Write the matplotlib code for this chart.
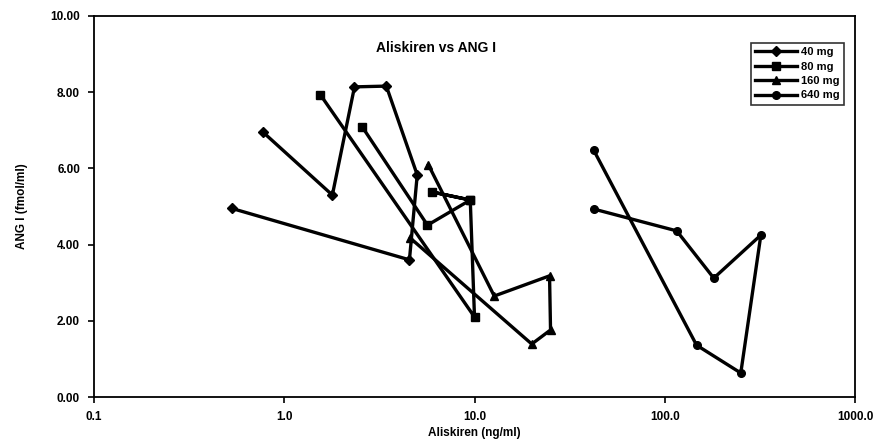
import numpy as np
import matplotlib
matplotlib.use("Agg")
from matplotlib import pyplot as plt
from matplotlib.ticker import FixedLocator, FormatStrFormatter, NullLocator

plt.rcParams['font.family'] = ['Liberation Sans', 'DejaVu Sans']
plt.rcParams['font.weight'] = 'bold'

# aliskiren concentration (ng/ml) and ANG I (fmol/ml), points in sampling order
conc_40 = [0.53, 4.55, 5.0, 3.44, 2.34, 1.79, 0.77]
ang_40 = [4.95, 3.60, 5.83, 8.16, 8.14, 5.30, 6.96]

conc_80 = [1.55, 10.0, 9.5, 6.0, 9.5, 5.66, 2.57]
ang_80 = [7.93, 2.10, 5.17, 5.38, 5.17, 4.51, 7.09]

conc_160 = [5.73, 12.7, 24.8, 25.1, 20.0, 4.6]
ang_160 = [6.09, 2.65, 3.18, 1.76, 1.39, 4.17]

conc_640 = [42.6, 115.6, 181.0, 320.0, 251.0, 147.0, 42.3]
ang_640 = [4.93, 4.36, 3.12, 4.25, 0.63, 1.36, 6.48]

labels = ["40 mg", "80 mg", "160 mg", "640 mg"]
markers = ["D", "s", "^", "o"]

fig = plt.figure(figsize=(8.91, 4.46), dpi=100)
ax = fig.add_axes([94/891, 1-397/446, (855-94)/891, (397-16)/446])

series = [(conc_40, ang_40), (conc_80, ang_80), (conc_160, ang_160), (conc_640, ang_640)]
for (x, y), lab, m in zip(series, labels, markers):
	ax.plot(x, y, color='black', lw=2.4, marker=m, markersize=5.5,
			markerfacecolor='black', markeredgecolor='black', label=lab)

ax.set_xscale('log')
ax.set_xlim(0.1, 1000)
ax.set_ylim(0, 10)
ax.xaxis.set_major_locator(FixedLocator([0.1, 1, 10, 100, 1000]))
ax.xaxis.set_minor_locator(NullLocator())
ax.xaxis.set_major_formatter(FormatStrFormatter('%.1f'))
ax.yaxis.set_major_locator(FixedLocator([0, 2, 4, 6, 8, 10]))
ax.yaxis.set_major_formatter(FormatStrFormatter('%.2f'))
ax.tick_params(axis='both', labelsize=8.5, length=4, width=1.2, direction='out', pad=6)
for s in ax.spines.values():
	s.set_linewidth(1.3)

ax.set_xlabel('Aliskiren (ng/ml)', fontsize=8.5, fontweight='bold', labelpad=3)
ax.set_ylabel('ANG I (fmol/ml)', fontsize=8.5, fontweight='bold', labelpad=16)
ax.text(0.45, 0.915, 'Aliskiren vs ANG I', transform=ax.transAxes, ha='center', va='center',
		fontsize=10, fontweight='bold')

leg = ax.legend(loc='upper right', bbox_to_anchor=(0.985, 0.93), fontsize=8, frameon=True,
				fancybox=False, edgecolor='black', handlelength=3.8, handletextpad=0.3,
				borderpad=0.4, labelspacing=0.4, borderaxespad=0)
leg.get_frame().set_linewidth(1.2)

fig.savefig('out.png', dpi=100)
